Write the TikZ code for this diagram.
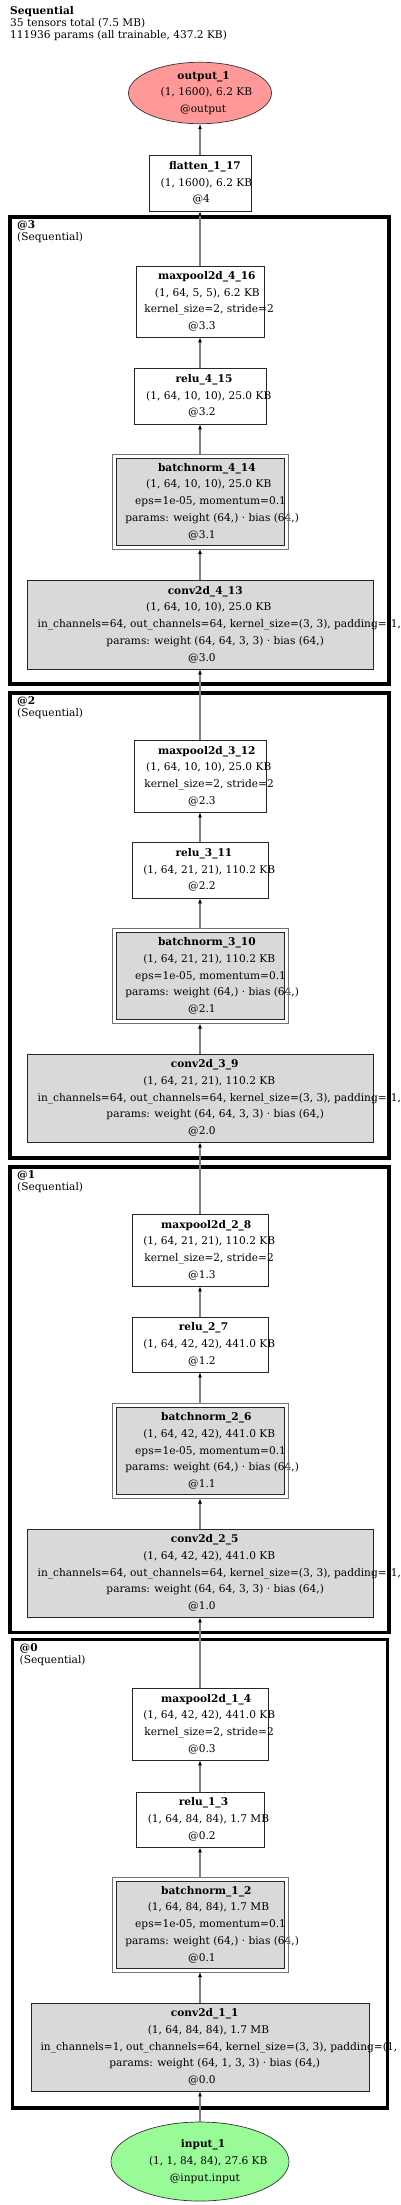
\documentclass[tikz,border=0pt]{standalone}
\usepackage{fontspec}
\setmainfont{DejaVu Serif}
\usepackage{xcolor}
\usetikzlibrary{positioning, arrows.meta, shapes.geometric}

\definecolor{outred}{HTML}{FF9999}
\definecolor{ingreen}{HTML}{98FB98}
\definecolor{layergray}{HTML}{D9D9D9}

% one text line, laid out narrower than it prints (runs over to the right)
\newcommand{\gvl}[1]{\setbox0\hbox{#1}\hbox to 0.86\wd0{\box0\hss}}

\begin{document}
\begin{tikzpicture}[
    x=1pt, y=-1pt,
    >={Latex[length=5pt, width=4pt, color=black]},
    nodetext/.style={font={\fontsize{10.6}{16.7}\selectfont}, align=center},
    io/.style={ellipse, draw=black!80, line width=0.7pt, inner sep=0pt, nodetext},
    plain/.style={rectangle, draw=black!85, line width=0.7pt, fill=white,
                  inner sep=2pt, nodetext},
    param/.style={plain, fill=layergray},
    bnorm/.style={param, outer sep=4pt, minimum width=168, minimum height=87},
    bnframe/.style={draw=black!55, line width=0.7pt},
    cluster/.style={rectangle, draw=black, line width=3.5pt, outer sep=0pt},
    clbl/.style={anchor=north west, inner sep=0pt, align=left,
                 font={\fontsize{10.6}{12}\selectfont}},
    arrow/.style={->, black!50, line width=1.2pt},
]

\useasboundingbox (0,0) rectangle (400,2205);

% Title
\node[clbl, font={\fontsize{10.6}{11.7}\selectfont}] (hdr) at (10,6.5)
    {\textbf{Sequential}\\35 tensors total (7.5 MB)\\111936 params (all trainable, 437.2 KB)};

% Clusters
\node[cluster, minimum width=379, minimum height=467] (c3) at (199.5,450.5) {};
\node[cluster, minimum width=379, minimum height=465] (c2) at (199.5,925.5) {};
\node[cluster, minimum width=379, minimum height=465.5] (c1) at (199.5,1399.75) {};
\node[cluster, minimum width=375, minimum height=468.5] (c0) at (200,1873.75) {};
\node[clbl] (c3lbl) at ([shift={(7,3.5)}]c3.north west) {\textbf{@3}\\(Sequential)};
\node[clbl] (c2lbl) at ([shift={(7,3.5)}]c2.north west) {\textbf{@2}\\(Sequential)};
\node[clbl] (c1lbl) at ([shift={(7,3.5)}]c1.north west) {\textbf{@1}\\(Sequential)};
\node[clbl] (c0lbl) at ([shift={(7,3.5)}]c0.north west) {\textbf{@0}\\(Sequential)};

% Output and flatten
\node[io, fill=outred, minimum width=143, minimum height=61] (out) at (200,93)
    {\gvl{\textbf{output\_1}}\\\gvl{(1, 1600), 6.2 KB}\\\gvl{@output}};
\node[plain, minimum width=102, minimum height=56] (flat) at (200,183)
    {\gvl{\textbf{flatten\_1\_17}}\\\gvl{(1, 1600), 6.2 KB}\\\gvl{@4}};

% Block @3
\node[plain, minimum width=128, minimum height=71] (mp4) at (200,301.5)
    {\gvl{\textbf{maxpool2d\_4\_16}}\\\gvl{(1, 64, 5, 5), 6.2 KB}\\\gvl{kernel\_size=2, stride=2}\\\gvl{@3.3}};
\node[plain, minimum width=132, minimum height=56] (re4) at (200,396)
    {\gvl{\textbf{relu\_4\_15}}\\\gvl{(1, 64, 10, 10), 25.0 KB}\\\gvl{@3.2}};
\node[bnorm] (bn4) at (200,501.5)
    {\gvl{\textbf{batchnorm\_4\_14}}\\\gvl{(1, 64, 10, 10), 25.0 KB}\\\gvl{eps=1e-05, momentum=0.1}\\\gvl{params: weight (64,) · bias (64,)}\\\gvl{@3.1}};
\node[param, minimum width=346, minimum height=89] (cv4) at (200,624.5)
    {\gvl{\textbf{conv2d\_4\_13}}\\\gvl{(1, 64, 10, 10), 25.0 KB}\\\gvl{in\_channels=64, out\_channels=64, kernel\_size=(3, 3), padding=(1, 1)}\\\gvl{params: weight (64, 64, 3, 3) · bias (64,)}\\\gvl{@3.0}};

% Block @2
\node[plain, minimum width=132, minimum height=72] (mp3) at (200,776)
    {\gvl{\textbf{maxpool2d\_3\_12}}\\\gvl{(1, 64, 10, 10), 25.0 KB}\\\gvl{kernel\_size=2, stride=2}\\\gvl{@2.3}};
\node[plain, minimum width=136, minimum height=56] (re3) at (200,870)
    {\gvl{\textbf{relu\_3\_11}}\\\gvl{(1, 64, 21, 21), 110.2 KB}\\\gvl{@2.2}};
\node[bnorm] (bn3) at (200,976)
    {\gvl{\textbf{batchnorm\_3\_10}}\\\gvl{(1, 64, 21, 21), 110.2 KB}\\\gvl{eps=1e-05, momentum=0.1}\\\gvl{params: weight (64,) · bias (64,)}\\\gvl{@2.1}};
\node[param, minimum width=346, minimum height=88] (cv3) at (200,1098)
    {\gvl{\textbf{conv2d\_3\_9}}\\\gvl{(1, 64, 21, 21), 110.2 KB}\\\gvl{in\_channels=64, out\_channels=64, kernel\_size=(3, 3), padding=(1, 1)}\\\gvl{params: weight (64, 64, 3, 3) · bias (64,)}\\\gvl{@2.0}};

% Block @1
\node[plain, minimum width=136, minimum height=72] (mp2) at (200,1250)
    {\gvl{\textbf{maxpool2d\_2\_8}}\\\gvl{(1, 64, 21, 21), 110.2 KB}\\\gvl{kernel\_size=2, stride=2}\\\gvl{@1.3}};
\node[plain, minimum width=136, minimum height=55] (re2) at (200,1344.5)
    {\gvl{\textbf{relu\_2\_7}}\\\gvl{(1, 64, 42, 42), 441.0 KB}\\\gvl{@1.2}};
\node[bnorm] (bn2) at (200,1451)
    {\gvl{\textbf{batchnorm\_2\_6}}\\\gvl{(1, 64, 42, 42), 441.0 KB}\\\gvl{eps=1e-05, momentum=0.1}\\\gvl{params: weight (64,) · bias (64,)}\\\gvl{@1.1}};
\node[param, minimum width=346, minimum height=88] (cv2) at (200,1573)
    {\gvl{\textbf{conv2d\_2\_5}}\\\gvl{(1, 64, 42, 42), 441.0 KB}\\\gvl{in\_channels=64, out\_channels=64, kernel\_size=(3, 3), padding=(1, 1)}\\\gvl{params: weight (64, 64, 3, 3) · bias (64,)}\\\gvl{@1.0}};

% Block @0
\node[plain, minimum width=136, minimum height=72] (mp1) at (200,1724)
    {\gvl{\textbf{maxpool2d\_1\_4}}\\\gvl{(1, 64, 42, 42), 441.0 KB}\\\gvl{kernel\_size=2, stride=2}\\\gvl{@0.3}};
\node[plain, minimum width=128, minimum height=55] (re1) at (200,1819.5)
    {\gvl{\textbf{relu\_1\_3}}\\\gvl{(1, 64, 84, 84), 1.7 MB}\\\gvl{@0.2}};
\node[bnorm] (bn1) at (200,1924.5)
    {\gvl{\textbf{batchnorm\_1\_2}}\\\gvl{(1, 64, 84, 84), 1.7 MB}\\\gvl{eps=1e-05, momentum=0.1}\\\gvl{params: weight (64,) · bias (64,)}\\\gvl{@0.1}};
\node[param, minimum width=338, minimum height=88] (cv1) at (200,2047)
    {\gvl{\textbf{conv2d\_1\_1}}\\\gvl{(1, 64, 84, 84), 1.7 MB}\\\gvl{in\_channels=1, out\_channels=64, kernel\_size=(3, 3), padding=(1, 1)}\\\gvl{params: weight (64, 1, 3, 3) · bias (64,)}\\\gvl{@0.0}};

% Input
\node[io, fill=ingreen, minimum width=178, minimum height=79] (inp) at (200,2161.5)
    {\gvl{\textbf{input\_1}}\\\gvl{(1, 1, 84, 84), 27.6 KB}\\\gvl{@input.input}};

% Outer frames of the batchnorm boxes
\foreach \b in {bn1, bn2, bn3, bn4}
    \draw[bnframe] (\b.north west) rectangle (\b.south east);

% === Arrows ===
\draw[arrow] (inp) -- (cv1);
\draw[arrow] (cv1) -- (bn1);
\draw[arrow] (bn1) -- (re1);
\draw[arrow] (re1) -- (mp1);
\draw[arrow] (mp1) -- (cv2);
\draw[arrow] (cv2) -- (bn2);
\draw[arrow] (bn2) -- (re2);
\draw[arrow] (re2) -- (mp2);
\draw[arrow] (mp2) -- (cv3);
\draw[arrow] (cv3) -- (bn3);
\draw[arrow] (bn3) -- (re3);
\draw[arrow] (re3) -- (mp3);
\draw[arrow] (mp3) -- (cv4);
\draw[arrow] (cv4) -- (bn4);
\draw[arrow] (bn4) -- (re4);
\draw[arrow] (re4) -- (mp4);
\draw[arrow] (mp4) -- (flat);
\draw[arrow] (flat) -- (out);

\end{tikzpicture}
\end{document}
